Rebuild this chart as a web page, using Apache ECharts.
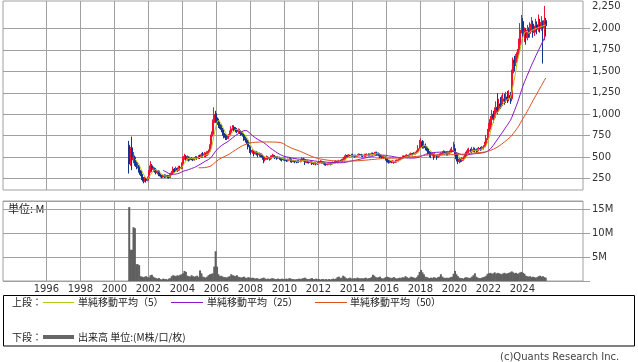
<!DOCTYPE html>
<html><head><meta charset="utf-8">
<script src="https://cdn.jsdelivr.net/npm/echarts@6/dist/echarts.min.js"></script>
<style>html,body{margin:0;padding:0;background:#fff}#c{width:638px;height:362px}</style>
</head><body><div id="c"></div>
<script>
// first candle: Nov 2000, monthly candles
const startYear = 2000, startMonth = 11;
// [open, close, low, high]
const ohlc = [
// 2000 Nov-Dec
[640,420,310,690],[430,600,400,620],
// 2001
[610,470,350,740],[470,500,430,560],[500,430,400,520],[430,390,360,450],[390,400,370,440],[400,340,320,410],
[340,300,280,350],[300,260,235,310],[260,220,196,270],[220,250,210,275],[250,230,205,260],[230,260,220,275],
// 2002
[260,330,250,350],[330,400,320,455],[400,360,340,420],[360,370,330,390],[370,340,320,380],[340,320,300,355],
[320,340,300,350],[340,300,280,350],[300,280,265,310],[280,270,255,295],[270,290,260,305],[290,275,258,300],
// 2003
[275,285,260,300],[285,270,255,295],[270,265,250,290],[265,300,260,320],[300,320,295,340],[320,360,315,390],
[360,340,320,375],[340,370,330,390],[370,350,330,380],[350,380,340,400],[380,370,350,400],[370,420,360,440],
// 2004
[420,490,410,510],[490,510,470,540],[510,480,460,525],[480,500,460,520],[500,470,450,510],[470,490,460,505],
[490,480,465,500],[480,470,455,490],[470,490,460,500],[490,500,475,515],[500,490,470,510],[490,510,480,525],
// 2005
[510,500,480,530],[500,530,490,550],[530,520,500,560],[520,540,500,560],[540,520,500,555],[520,550,510,570],
[550,570,530,590],[570,620,560,650],[620,760,610,800],[760,900,740,940],[900,1000,880,1080],[1000,960,900,1040],
// 2006
[960,920,880,1010],[920,880,840,950],[880,860,830,920],[860,820,790,880],[820,780,750,840],[780,750,720,800],
[750,730,700,770],[730,720,700,750],[720,750,710,770],[750,790,740,810],[790,830,780,860],[830,850,810,874],
// 2007
[850,830,800,870],[830,820,790,850],[820,800,780,840],[800,810,780,835],[810,790,770,830],[790,780,750,810],
[780,760,740,800],[760,720,690,780],[720,700,670,740],[700,690,650,720],[690,620,590,700],[620,580,550,640],
// 2008
[580,560,530,600],[560,570,540,590],[570,540,510,580],[540,560,530,575],[560,550,520,570],[550,530,500,560],
[530,540,505,555],[540,520,500,550],[520,500,470,530],[500,470,430,510],[470,490,450,505],[490,500,470,520],
// 2009
[500,490,470,510],[490,480,460,500],[480,500,470,520],[500,520,490,540],[520,510,490,530],[510,500,480,525],
[500,490,470,510],[490,500,480,515],[500,490,470,505],[490,480,460,500],[480,470,450,490],[470,480,460,495],
// 2010
[480,470,455,495],[470,460,445,480],[460,470,450,485],[470,480,460,500],[480,460,440,490],[460,450,435,470],
[450,460,440,470],[460,450,430,465],[450,445,430,460],[445,455,435,470],[455,450,435,465],[450,460,440,475],
// 2011
[460,480,450,500],[480,470,450,495],[470,440,410,480],[440,450,430,465],[450,445,430,460],[445,440,425,455],
[440,445,430,460],[445,430,410,450],[430,425,410,440],[425,430,415,445],[430,420,405,440],[420,430,410,445],
// 2012
[430,440,420,455],[440,450,430,465],[450,440,425,460],[440,430,415,450],[430,420,405,440],[420,415,400,430],
[415,420,405,435],[420,425,410,440],[425,420,405,435],[420,430,410,445],[430,435,420,450],[435,445,425,460],
// 2013
[445,450,430,465],[450,445,430,460],[445,455,435,470],[455,450,440,470],[450,460,440,480],[460,470,450,485],
[470,500,465,520],[500,520,490,535],[520,510,495,530],[510,520,500,535],[520,515,500,530],[515,525,505,540],
// 2014
[525,520,505,540],[520,510,495,530],[510,515,500,530],[515,520,505,535],[520,530,510,545],[530,525,510,540],
[525,520,505,540],[520,515,500,530],[515,525,505,540],[525,520,505,540],[520,530,510,545],[530,525,510,545],
// 2015
[525,530,510,545],[530,540,520,555],[540,535,520,555],[535,545,525,560],[545,550,530,565],[550,540,525,565],
[540,530,510,555],[530,510,490,540],[510,500,480,520],[500,505,490,520],[505,500,485,515],[500,480,460,510],
// 2016
[480,460,440,490],[460,440,425,470],[440,450,430,465],[450,445,430,460],[445,450,435,465],[450,440,425,460],
[440,455,435,470],[455,460,445,475],[460,470,450,485],[470,480,460,495],[480,490,470,505],[490,510,480,520],
// 2017
[510,505,490,520],[505,515,495,530],[515,520,500,535],[520,515,500,530],[515,530,510,545],[530,540,520,555],
[540,535,520,550],[535,545,525,560],[545,550,530,565],[550,560,540,580],[560,600,550,640],[600,650,590,700],
// 2018
[650,680,620,720],[680,620,600,700],[620,640,600,690],[640,610,580,660],[610,600,570,630],[600,560,530,610],
[560,540,500,570],[540,530,490,555],[530,540,510,560],[540,510,470,550],[510,520,490,540],[520,500,470,530],
// 2019
[500,520,490,535],[520,530,505,545],[530,540,515,555],[540,550,525,570],[550,560,530,580],[560,550,530,575],
[550,540,520,565],[540,550,520,570],[550,560,535,580],[560,570,545,600],[570,580,550,620],[580,600,560,680],
// 2020
[600,540,520,650],[540,480,450,560],[480,450,420,500],[450,470,430,490],[470,460,440,485],[460,480,445,500],
[480,490,460,510],[490,520,480,540],[520,560,510,580],[560,570,540,600],[570,580,550,610],[580,570,550,600],
// 2021
[570,580,550,620],[580,590,560,620],[590,580,555,610],[580,575,550,600],[575,590,560,610],[590,600,570,620],
[600,595,575,620],[595,610,580,630],[610,620,590,640],[620,650,610,680],[650,720,640,760],[720,800,700,830],
// 2022
[800,850,760,900],[850,940,820,980],[940,1000,900,1050],[1000,960,900,1040],[960,1020,940,1080],[1020,1080,990,1150],
[1080,1050,1000,1245],[1050,1120,1030,1180],[1120,1100,1060,1200],[1100,1150,1080,1220],[1150,1180,1120,1250],[1180,1160,1110,1240],
// 2023
[1160,1200,1130,1260],[1200,1180,1130,1270],[1180,1220,1150,1280],[1220,1180,1120,1260],[1180,1480,1150,1520],[1480,1630,1450,1660],
[1630,1600,1500,1680],[1600,1680,1560,1700],[1680,1720,1620,1760],[1720,1800,1680,1880],[1800,1980,1760,2060],[1980,2080,1940,2155],
// 2024
[2080,1920,1860,2120],[1920,1970,1840,2010],[1970,1890,1810,2000],[1890,1980,1860,2040],[1980,1940,1890,2010],[1940,2010,1890,2070],
[2010,2050,1960,2130],[2050,1950,1890,2090],[1950,1990,1910,2030],[1990,2040,1950,2110],[2040,1990,1930,2080],[1990,2060,1960,2160],
// 2025 Jan-May
[2060,2000,1950,2110],[2000,2070,1970,2140],[2070,2010,1590,2090],[2010,2090,1860,2260],[2090,2030,1910,2120]
];
// monthly volume, millions
const volume = [
15.4,6.5,
6.5,11.2,11.0,3.5,3.5,3.3,1.0,0.9,0.8,0.9,1.0,0.8,
0.7,1.2,1.3,0.9,0.7,0.6,0.5,0.6,0.4,0.3,0.5,0.4,
0.4,0.3,0.5,0.6,1.0,1.2,1.1,1.0,1.2,1.1,1.3,1.4,
1.6,2.1,1.9,1.1,1.0,0.9,1.2,1.0,0.9,1.0,1.1,0.8,
2.2,1.6,0.9,0.8,0.7,0.9,1.2,1.4,1.5,1.6,3.0,6.2,
3.0,1.4,1.0,1.1,0.9,0.8,0.8,0.7,0.9,1.0,1.4,1.2,
1.1,1.0,1.2,0.9,0.8,0.7,0.8,0.9,0.7,0.6,0.8,0.7,
0.6,0.7,0.6,0.5,0.6,0.5,0.4,0.5,0.6,0.7,0.5,0.4,
0.5,0.4,0.5,0.6,0.5,0.4,0.4,0.5,0.4,0.4,0.5,0.4,
0.4,0.5,0.4,0.6,0.5,0.4,0.4,0.3,0.4,0.4,0.5,0.4,
0.5,0.6,0.7,0.5,0.4,0.4,0.5,0.6,0.4,0.4,0.5,0.4,
0.4,0.3,0.4,0.4,0.3,0.4,0.3,0.4,0.3,0.4,0.5,0.4,
0.5,0.8,0.9,0.6,0.7,1.1,0.9,0.6,0.5,0.6,0.7,0.5,
0.5,0.6,0.5,0.7,0.6,0.5,0.6,0.5,0.6,0.7,0.5,0.6,
0.6,0.8,1.3,1.1,0.8,0.7,0.8,0.9,0.6,0.5,0.6,0.8,
0.9,0.8,0.7,0.6,0.7,0.8,0.6,0.5,0.6,0.7,0.6,0.8,
0.7,1.0,0.8,0.6,0.7,0.9,0.8,0.7,0.6,0.8,1.2,1.9,
2.3,1.8,1.4,0.9,0.8,0.7,0.6,0.7,0.6,0.8,0.7,0.6,
0.8,0.9,1.4,0.9,0.7,0.6,0.7,0.6,0.7,0.8,0.9,1.5,
2.1,1.4,1.0,0.7,0.6,0.6,0.5,0.7,0.8,0.7,0.6,0.7,
0.9,1.2,1.6,0.9,0.7,0.6,0.6,0.7,0.8,0.9,1.1,1.5,
1.6,1.7,1.5,1.6,1.8,1.5,1.7,1.6,1.5,1.4,1.6,1.7,
1.5,1.6,1.7,1.8,2.0,1.8,1.6,1.7,1.5,1.6,1.8,1.9,
1.7,1.5,1.1,1.0,0.9,1.0,0.8,0.9,0.8,0.7,0.8,1.0,
1.1,0.9,1.0,0.8,0.7
];
const yearTicks = [1996,1998,2000,2002,2004,2006,2008,2010,2012,2014,2016,2018,2020,2022,2024];
const priceGrid = [250,500,750,1000,1250,1500,1750,2000];
const priceLabels = [250,500,750,1000,1250,1500,1750,2000,2250];
const maPeriods = [5,25,50];
const maNames = ['単純移動平均（5）','単純移動平均（25）','単純移動平均（50）'];
const maColors = ['#b8c41a','#8a18c4','#e0501c'];

const t = ohlc.map((_, i) => startYear + (startMonth - 1 + i + 0.5) / 12);
const candleData = ohlc.map((d, i) => [t[i], d[0], d[1], d[2], d[3]]);
const volData = volume.map((v, i) => [t[i], v]);
function ma(n) {
  const out = [];
  for (let i = n - 1; i < ohlc.length; i++) {
    let s = 0;
    for (let j = i - n + 1; j <= i; j++) s += ohlc[j][1];
    out.push([t[i], s / n]);
  }
  return out;
}

const X_MIN = 1993.45, X_MAX = 1993.45 + 580 / 17;
const gridColor = '#a0a0a0';
const FONT = '"DejaVu Sans", sans-serif';
const JFONT = '"Noto Sans CJK JP", sans-serif';

const chart = echarts.init(document.getElementById('c'), null, {renderer: 'canvas'});
const option = {
  animation: false,
  backgroundColor: '#fff',
  grid: [
    {left: 3, right: 55, top: 1, height: 189, show: true, borderColor: gridColor, borderWidth: 1, containLabel: false},
    {left: 3, right: 55, top: 201, height: 80, show: true, borderColor: gridColor, borderWidth: 1, containLabel: false}
  ],
  xAxis: [
    {type: 'value', gridIndex: 0, min: X_MIN, max: X_MAX, axisLine: {show: false},
     axisTick: {show: false, customValues: yearTicks}, axisLabel: {show: false},
     splitLine: {show: true, lineStyle: {color: gridColor, width: 1}}},
    {type: 'value', gridIndex: 1, min: X_MIN, max: X_MAX, axisLine: {show: false},
     axisTick: {show: false, customValues: yearTicks},
     axisLabel: {show: true, customValues: yearTicks, margin: 3, fontSize: 10, color: '#333', fontFamily: FONT, formatter: v => String(v)},
     splitLine: {show: true, lineStyle: {color: gridColor, width: 1}}}
  ],
  yAxis: [
    {type: 'value', gridIndex: 0, position: 'right', min: 118.5, max: 2317.6, axisLine: {show: false},
     axisTick: {show: true, length: 7, customValues: priceGrid, lineStyle: {color: gridColor}},
     axisLabel: {show: true, customValues: priceLabels, margin: 9, fontSize: 10, color: '#333', fontFamily: FONT,
                 formatter: v => v.toLocaleString('en-US')},
     splitLine: {show: true, lineStyle: {color: gridColor, width: 1}}},
    {type: 'value', gridIndex: 1, position: 'right', min: 0, max: 80 / 4.8, interval: 5, axisLine: {show: false},
     axisTick: {show: true, length: 7, lineStyle: {color: gridColor}},
     axisLabel: {show: true, margin: 9, fontSize: 10, color: '#333', fontFamily: FONT,
                 formatter: v => v === 0 ? '' : v + 'M'},
     splitLine: {show: true, lineStyle: {color: gridColor, width: 1}}}
  ],
  series: [
    {type: 'candlestick', xAxisIndex: 0, yAxisIndex: 0, data: candleData, barWidth: 1.7,
     itemStyle: {color: '#ee1133', color0: '#14338c', borderColor: '#ee1133', borderColor0: '#14338c', borderWidth: 1}},
    ...maPeriods.map((n, k) => ({type: 'line', xAxisIndex: 0, yAxisIndex: 0, data: ma(n), showSymbol: false,
      symbol: 'none', lineStyle: {color: maColors[k], width: 1}, z: 3})),
    {type: 'bar', xAxisIndex: 1, yAxisIndex: 1, data: volData, barWidth: 2, itemStyle: {color: '#606060'}}
  ],
  graphic: [
    {type: 'text', left: 8, top: 203, style: {text: '単位: M', font: '11px ' + JFONT, fill: '#222'}},
    {type: 'rect', shape: {x: 3.5, y: 295.5, width: 631, height: 50.5}, style: {fill: 'none', stroke: '#000', lineWidth: 1}},
    {type: 'text', x: 12, y: 302.5, style: {text: '上段：', font: '10px ' + JFONT, fill: '#222', verticalAlign: 'middle'}},
    {type: 'line', shape: {x1: 43, y1: 302.5, x2: 74, y2: 302.5}, style: {stroke: maColors[0], lineWidth: 1}},
    {type: 'text', x: 78, y: 302.5, style: {text: maNames[0], font: '10px ' + JFONT, fill: '#222', verticalAlign: 'middle'}},
    {type: 'line', shape: {x1: 171, y1: 302.5, x2: 203, y2: 302.5}, style: {stroke: maColors[1], lineWidth: 1}},
    {type: 'text', x: 207, y: 302.5, style: {text: maNames[1], font: '10px ' + JFONT, fill: '#222', verticalAlign: 'middle'}},
    {type: 'line', shape: {x1: 315, y1: 302.5, x2: 347, y2: 302.5}, style: {stroke: maColors[2], lineWidth: 1}},
    {type: 'text', x: 350, y: 302.5, style: {text: maNames[2], font: '10px ' + JFONT, fill: '#222', verticalAlign: 'middle'}},
    {type: 'text', x: 12, y: 337, style: {text: '下段：', font: '10px ' + JFONT, fill: '#222', verticalAlign: 'middle'}},
    {type: 'line', shape: {x1: 43, y1: 337, x2: 74, y2: 337}, style: {stroke: '#666', lineWidth: 4}},
    {type: 'text', x: 78, y: 337, style: {text: '出来高 単位:(M株/口/枚)', font: '10px ' + JFONT, fill: '#222', verticalAlign: 'middle'}},
    {type: 'text', x: 500, y: 357, style: {text: '(c)Quants Research Inc.', font: '10px ' + FONT, fill: '#444', verticalAlign: 'middle'}}
  ]
};
chart.setOption(option);
</script></body></html>
